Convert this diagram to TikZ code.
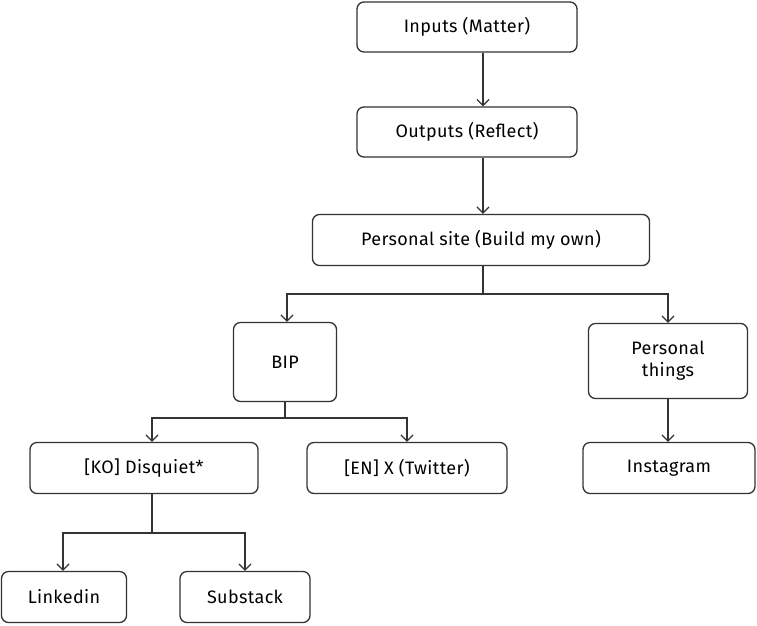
\documentclass[tikz,border=0pt]{standalone}
\usepackage{fontspec}
\setmainfont{Fira Sans}[Scale=1]
\usetikzlibrary{arrows.meta}
\begin{document}
\begin{tikzpicture}[x=1pt,y=-1pt,
 box/.style={draw=black!80,line width=1.3pt,rounded corners=7pt,inner sep=0pt,font=\fontsize{18}{22}\selectfont\addfontfeature{LetterSpace=2}},
 ar/.style={draw=black!80,line width=1.3pt,-{Straight Barb[length=6pt,width=12pt]}}]
\useasboundingbox (0,0) rectangle (757,625);
\node[box,minimum width=220pt,minimum height=50pt] (in) at (467,27) {Inputs (Matter)};
\node[box,minimum width=220pt,minimum height=50pt] (out) at (467,132) {Outputs (Reflect)};
\node[box,minimum width=337pt,minimum height=51pt] (ps) at (481,240) {Personal site (Build my own)};
\node[box,minimum width=103pt,minimum height=79pt] (bip) at (285,362) {BIP};
\node[box,minimum width=159pt,minimum height=75pt,align=center] (pt) at (668,361) {Personal\\things};
\node[box,minimum width=228pt,minimum height=51pt] (ko) at (144,468) {[KO] Disquiet*};
\node[box,minimum width=200pt,minimum height=51pt] (en) at (407,468) {[EN] X (Twitter)};
\node[box,minimum width=172pt,minimum height=51pt] (ig) at (669,468) {Instagram};
\node[box,minimum width=125pt,minimum height=51pt] (li) at (64,597) {Linkedin};
\node[box,minimum width=130pt,minimum height=51pt] (ss) at (245,597) {Substack};
\draw[ar] (in.south -| 483,0) -- (out.north -| 483,0);
\draw[ar] (out.south -| 483,0) -- (ps.north -| 483,0);
\coordinate (j1) at (483,294);
\draw[ar] (ps.south -| j1) -- (j1) -| (bip.north -| 287,0);
\draw[ar] (j1) -| (pt.north);
\coordinate (j2) at (285,418);
\draw[ar] (bip.south) -- (j2) -| (ko.north -| 152,0);
\draw[ar] (j2) -| (en.north);
\coordinate (j3) at (152,533);
\draw[ar] (ko.south -| j3) -- (j3) -| (li.north -| 63,0);
\draw[ar] (j3) -| (ss.north);
\draw[ar] (pt.south) -- (ig.north -| pt.south);
\end{tikzpicture}
\end{document}
